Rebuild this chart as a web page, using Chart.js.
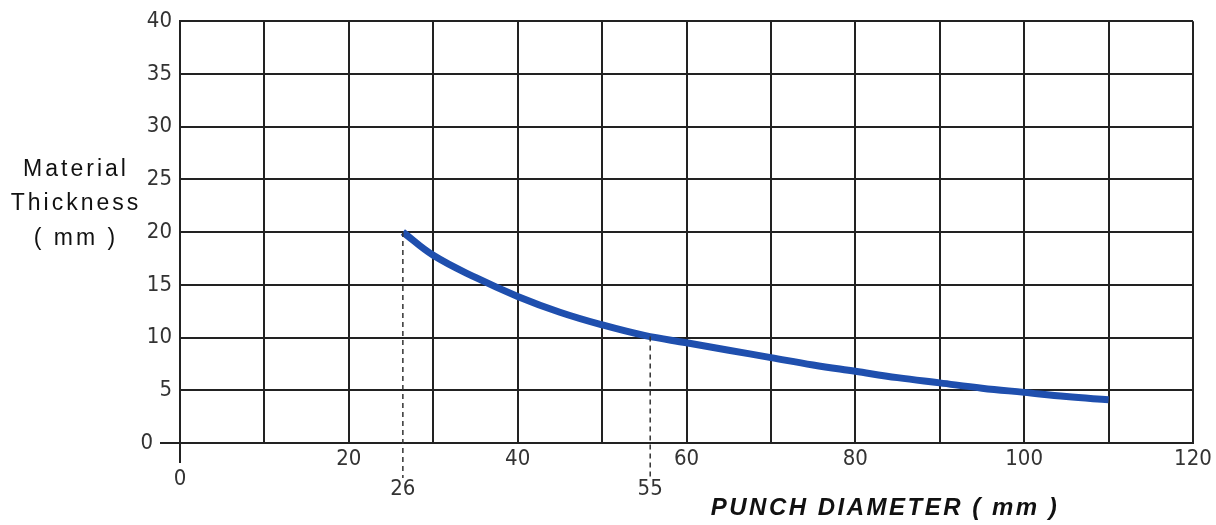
<!DOCTYPE html>
<html>
<head>
<meta charset="utf-8">
<script src="https://cdn.jsdelivr.net/npm/chart.js@4.4.1/dist/chart.umd.min.js"></script>
<style>
  html, body { margin: 0; padding: 0; background: #ffffff; }
  #wrap { width: 1216px; height: 525px; position: relative; }
</style>
</head>
<body>
<div id="wrap"><canvas id="c" width="1216" height="525"></canvas></div>
<script>
// ---- data ----
const punchDiameter = [26.4, 30, 35, 40, 45, 50, 55, 60, 65, 70, 75, 80, 85, 90, 95, 100, 105, 110];
const materialThickness = [20, 17.8, 15.7, 13.9, 12.4, 11.2, 10.2, 9.5, 8.8, 8.1, 7.4, 6.8, 6.2, 5.7, 5.2, 4.8, 4.4, 4.1];
const markerX = [26.4, 55.7];
const markerY = [20, 10.1];
const markerLabels = ['26', '55'];
const xTickLabels = [20, 40, 60, 80, 100, 120];
const yTitleLines = ['Material', 'Thickness', '( mm )'];
const xTitle = 'PUNCH DIAMETER ( mm )';

const tickFont = { family: "'Liberation Sans Narrow', 'Arial Narrow', 'DejaVu Sans Condensed', sans-serif", size: 22 };
const tickColor = '#333333';

const extras = {
  id: 'extras',
  afterDatasetsDraw(chart) {
    const ctx = chart.ctx;
    const xs = chart.scales.x, ys = chart.scales.y;
    const x0 = xs.getPixelForValue(0), y0 = ys.getPixelForValue(0);
    ctx.save();
    // axis extensions at the origin
    ctx.strokeStyle = '#222';
    ctx.lineWidth = 2;
    ctx.beginPath();
    ctx.moveTo(x0, y0); ctx.lineTo(x0, y0 + 20);
    ctx.moveTo(x0, y0); ctx.lineTo(x0 - 20, y0);
    ctx.stroke();
    // origin labels
    ctx.fillStyle = tickColor;
    ctx.font = tickFont.size + 'px ' + tickFont.family;
    ctx.textAlign = 'center'; ctx.textBaseline = 'middle';
    ctx.fillText('0', x0, y0 + 36);
    ctx.textAlign = 'right';
    ctx.fillText('0', x0 - 27, y0);
    // drop lines
    ctx.setLineDash([5, 4]);
    ctx.lineWidth = 1.5;
    ctx.strokeStyle = '#333';
    for (let i = 0; i < markerX.length; i++) {
      const px = xs.getPixelForValue(markerX[i]);
      const py = ys.getPixelForValue(markerY[i]);
      ctx.beginPath();
      ctx.moveTo(px, py); ctx.lineTo(px, y0 + 35);
      ctx.stroke();
    }
    ctx.setLineDash([]);
    ctx.textAlign = 'center';
    for (let i = 0; i < markerX.length; i++) {
      const px = xs.getPixelForValue(markerX[i]);
      ctx.fillText(markerLabels[i], px, y0 + 46);
    }
    // y title (horizontal)
    ctx.fillStyle = '#111';
    ctx.font = "23px 'Liberation Sans', Arial, sans-serif";
    ctx.letterSpacing = '3px';
    ctx.textAlign = 'center';
    const ty = [170, 204, 239];
    yTitleLines.forEach((t, i) => ctx.fillText(t, 76, ty[i]));
    // x title
    ctx.font = "italic bold 24px 'Liberation Sans', Arial, sans-serif";
    ctx.letterSpacing = '2.5px';
    ctx.fillText(xTitle, 885, 508);
    ctx.restore();
  }
};

new Chart(document.getElementById('c'), {
  type: 'line',
  data: {
    datasets: [{
      data: punchDiameter.map((x, i) => ({ x, y: materialThickness[i] })),
      borderColor: '#1f4fae',
      borderWidth: 7,
      pointRadius: 0,
      tension: 0.4,
      fill: false
    }]
  },
  options: {
    responsive: false,
    animation: false,
    layout: { padding: { left: 0, top: 20, right: 23, bottom: 0 } },
    plugins: { legend: { display: false }, tooltip: { enabled: false } },
    scales: {
      x: {
        type: 'linear', min: 0, max: 120,
        afterFit: s => { s.height = 82; },
        grid: { color: '#222', lineWidth: 2, drawTicks: false },
        border: { color: '#222', width: 2 },
        ticks: {
          stepSize: 10, padding: 3, color: tickColor, font: tickFont, maxRotation: 0, autoSkip: false,
          callback: v => xTickLabels.includes(v) ? String(v) : ''
        }
      },
      y: {
        min: 0, max: 40,
        afterFit: s => { s.width = 180; },
        grid: { color: '#222', lineWidth: 2, drawTicks: false },
        border: { color: '#222', width: 2 },
        ticks: {
          stepSize: 5, padding: 8, color: tickColor, font: tickFont,
          callback: v => v === 0 ? '' : String(v)
        }
      }
    }
  },
  plugins: [extras]
});
</script>
</body>
</html>
